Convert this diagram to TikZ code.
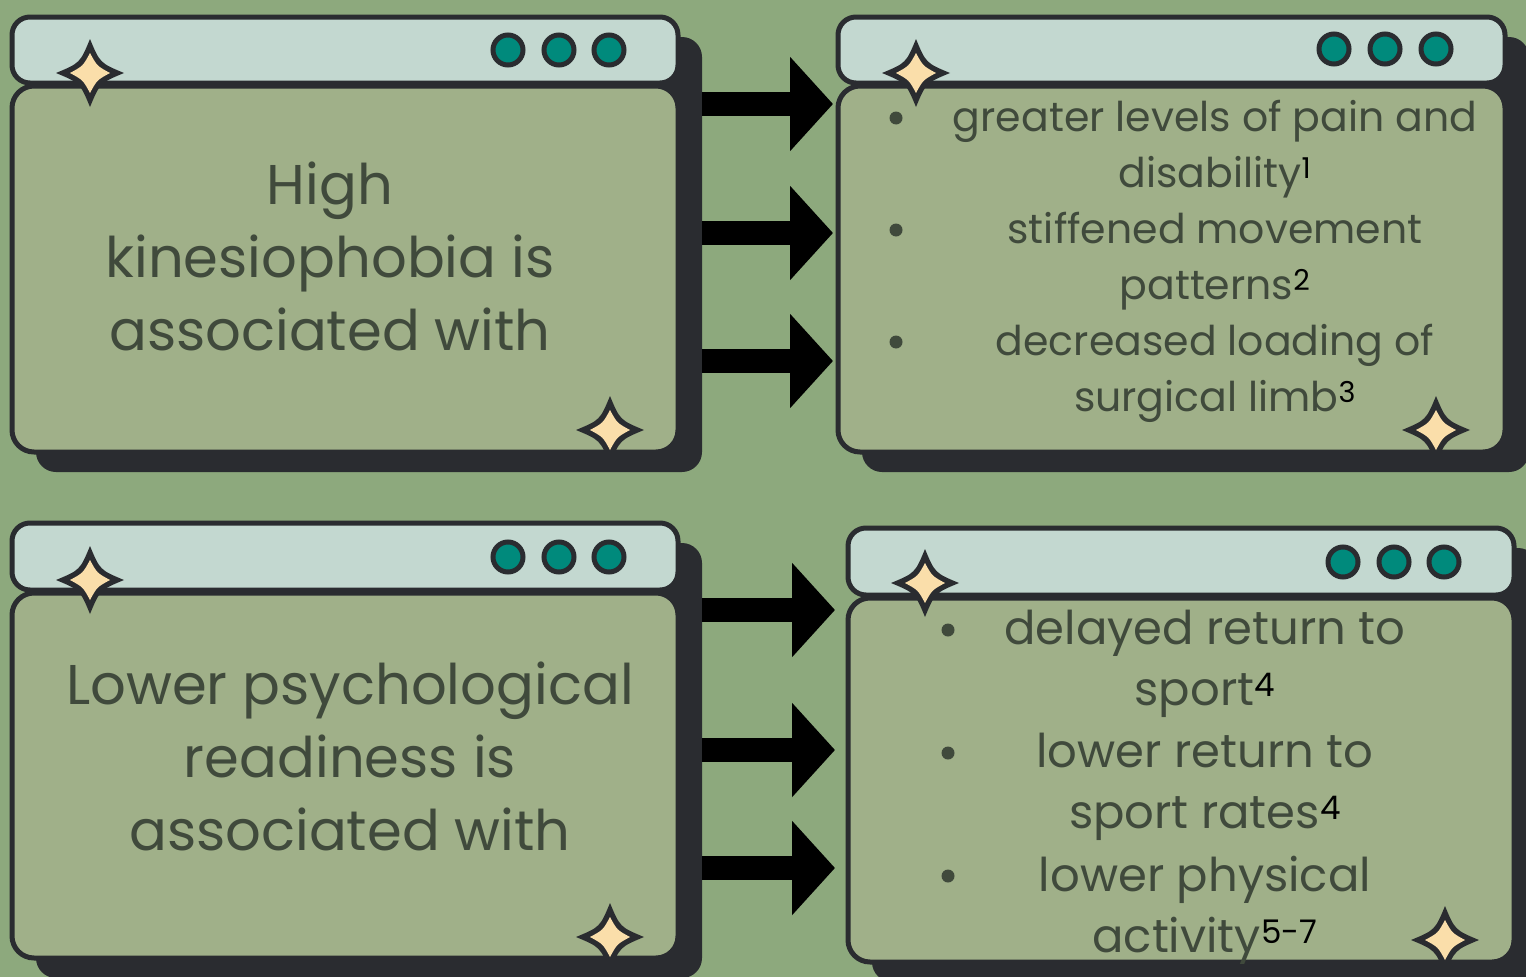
\documentclass[tikz,border=0pt]{standalone}
\usepackage{fontspec}
\setmainfont{Poppins}
\usetikzlibrary{arrows.meta}

\definecolor{bggreen}{HTML}{8DA97D}
\definecolor{bodygreen}{HTML}{A0B089}
\definecolor{barblue}{HTML}{C3D8D0}
\definecolor{inkdark}{HTML}{2A2C30}
\definecolor{btnteal}{HTML}{008A7C}
\definecolor{startan}{HTML}{FADEAA}
\definecolor{textgreen}{HTML}{404A3C}

\tikzset{
  titlebar/.style={draw=inkdark, line width=5pt, fill=barblue, rounded corners=18pt, anchor=north west, inner sep=0pt, outer sep=0pt},
  bodybox/.style={draw=inkdark, line width=5pt, fill=bodygreen, rounded corners=22pt, anchor=north west, inner sep=0pt, outer sep=0pt},
  winbtn/.style={circle, draw=inkdark, line width=5pt, fill=btnteal, minimum size=30pt, inner sep=0pt},
  bulletdot/.style={circle, fill=textgreen, minimum size=13pt, inner sep=0pt},
  bigtext/.style={text=textgreen, align=center, font=\fontsize{56}{73}\selectfont},
  toplist/.style={text=textgreen, align=center, font=\fontsize{41}{56}\selectfont},
  botlist/.style={text=textgreen, align=center, font=\fontsize{46.5}{61}\selectfont},
  blockarrow/.style={line width=24pt, shorten <=24pt, shorten >=5pt, -{Triangle[length=43pt,width=92pt]}},
  sparkle/.pic={
    \fill[inkdark] (0,-34) .. controls (10,-10) .. (34,0) .. controls (10,10) .. (0,34) .. controls (-10,10) .. (-34,0) .. controls (-10,-10) .. cycle;
    \fill[startan] (0,-20) .. controls (7,-7) .. (20,0) .. controls (7,7) .. (0,20) .. controls (-7,7) .. (-20,0) .. controls (-7,-7) .. cycle;
  }
}

\begin{document}
\begin{tikzpicture}[x=1pt, y=-1pt]
  \clip (0,0) rectangle (1526,977);
  \fill[bggreen] (0,0) rectangle (1526,977);

  % Shadows
  \fill[inkdark, rounded corners=20pt] (36,37) rectangle (702,472);
  \fill[inkdark, rounded corners=20pt] (862,37) rectangle (1529,472);
  \fill[inkdark, rounded corners=20pt] (36,543) rectangle (702,978);
  \fill[inkdark, rounded corners=20pt] (872,548) rectangle (1538,982);

  % Windows
  \node[bodybox, minimum width=666pt, minimum height=366pt] (tlbody) at (12,86) {};
  \node[titlebar, minimum width=666pt, minimum height=66pt] (tltitle) at (12,17) {};
  \node[bodybox, minimum width=667pt, minimum height=366pt] (trbody) at (838,86) {};
  \node[titlebar, minimum width=667pt, minimum height=66pt] (trtitle) at (838,17) {};
  \node[bodybox, minimum width=666pt, minimum height=365pt] (blbody) at (12,593) {};
  \node[titlebar, minimum width=666pt, minimum height=67pt] (bltitle) at (12,523) {};
  \node[bodybox, minimum width=666pt, minimum height=364pt] (brbody) at (848,598) {};
  \node[titlebar, minimum width=666pt, minimum height=67pt] (brtitle) at (848,528) {};

  % Buttons
  \foreach \bx in {508,559,609} {
    \node[winbtn] at (\bx,50) {};
    \node[winbtn] at (\bx,557) {};
  }
  \foreach \bx in {1334,1385,1436} {
    \node[winbtn] at (\bx,49) {};
  }
  \foreach \bx in {1343,1394,1444} {
    \node[winbtn] at (\bx,562) {};
  }

  % Sparkles
  \pic at (90,73) {sparkle};
  \pic at (610,430) {sparkle};
  \pic at (916,73) {sparkle};
  \pic at (1436,430) {sparkle};
  \pic at (90,580) {sparkle};
  \pic at (610,937) {sparkle};
  \pic at (925,583) {sparkle};
  \pic at (1445,940) {sparkle};

  % Texts
  \node[bigtext] (kinesio) at (330,256) {High\\kinesiophobia is\\associated with};
  \node[bigtext] (readiness) at (350,756) {Lower psychological\\readiness is\\associated with};

  \node[bulletdot] (b1) at (896,118) {};
  \node[bulletdot] (b2) at (896,230) {};
  \node[bulletdot] (b3) at (896,342) {};
  \node[toplist] (pain) at (1215,149) {greater levels of pain and\\disability\textsuperscript{\color{black}1}};
  \node[toplist] (stiff) at (1215,261) {stiffened movement\\patterns\textsuperscript{\color{black}2}};
  \node[toplist] (loading) at (1215,373) {decreased loading of\\surgical limb\textsuperscript{\color{black}3}};

  \node[bulletdot] (b4) at (948,630) {};
  \node[bulletdot] (b5) at (948,753) {};
  \node[bulletdot] (b6) at (948,876) {};
  \node[botlist] (delayed) at (1205,664) {delayed return to\\sport\textsuperscript{\color{black}4}};
  \node[botlist] (rates) at (1205,787) {lower return to\\sport rates\textsuperscript{\color{black}4}};
  \node[botlist] (activity) at (1205,910) {lower physical\\activity\textsuperscript{\color{black}5-7}};

  % Edges
  \draw[blockarrow] (tlbody.east |- 0,104) -- (trbody.west |- 0,104);
  \draw[blockarrow] (tlbody.east |- 0,233) -- (trbody.west |- 0,233);
  \draw[blockarrow] (tlbody.east |- 0,361) -- (trbody.west |- 0,361);
  \draw[blockarrow, shorten >=13pt] (blbody.east |- 0,610) -- (brbody.west |- 0,610);
  \draw[blockarrow, shorten >=13pt] (blbody.east |- 0,750) -- (brbody.west |- 0,750);
  \draw[blockarrow, shorten >=13pt] (blbody.east |- 0,868) -- (brbody.west |- 0,868);
\end{tikzpicture}
\end{document}
